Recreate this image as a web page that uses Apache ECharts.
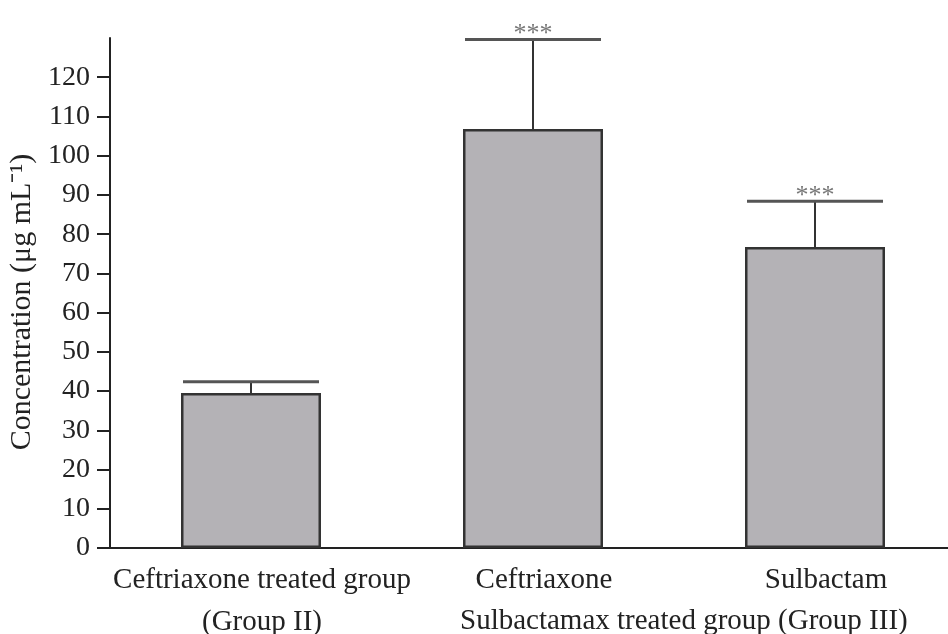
<!DOCTYPE html>
<html>
<head>
<meta charset="utf-8">
<script src="https://cdn.jsdelivr.net/npm/echarts@6/dist/echarts.min.js"></script>
<style>
html,body{margin:0;padding:0;background:#fff;}
#chart{width:948px;height:634px;}
</style>
</head>
<body>
<div id="chart"></div>
<script>
var categories = ['Ceftriaxone treated group\n(Group II)', 'Ceftriaxone', 'Sulbactam'];
var means = [39.5, 106.8, 76.7];
var upperErrors = [42.4, 129.6, 88.4];
var significance = ['', '***', '***'];
var yTicks = [0, 10, 20, 30, 40, 50, 60, 70, 80, 90, 100, 110, 120];
var groupLabel = 'Sulbactamax treated group (Group III)';

var font = '"Liberation Serif", "Times New Roman", serif';
var chart = echarts.init(document.getElementById('chart'));

var errData = means.map(function (m, i) { return [i, m, upperErrors[i]]; });

chart.setOption({
  animation: false,
  backgroundColor: '#fff',
  grid: { left: 110, right: -8, top: 38, bottom: 86, outerBoundsMode: 'none', containLabel: false },
  xAxis: {
    type: 'category',
    data: categories,
    axisLine: { lineStyle: { color: '#222', width: 2 } },
    axisTick: { show: false },
    axisLabel: {
      interval: 0,
      margin: 11,
      fontFamily: font,
      fontSize: 29,
      lineHeight: 42,
      color: '#222',
      padding: [0, 0, 0, 22]
    }
  },
  yAxis: {
    type: 'value',
    min: 0,
    max: 130,
    interval: 10,
    name: 'Concentration (μg mL⁻¹)',
    nameLocation: 'middle',
    nameRotate: 90,
    nameGap: 62,
    nameTextStyle: { fontFamily: font, fontSize: 30, color: '#222', padding: [0, 18, 0, 0] },
    splitLine: { show: false },
    axisLine: { show: true, lineStyle: { color: '#222', width: 2 } },
    axisTick: { show: true, length: 13, customValues: yTicks, lineStyle: { color: '#222', width: 2 } },
    axisLabel: { customValues: yTicks, margin: 20, fontFamily: font, fontSize: 28, color: '#222' }
  },
  graphic: [{
    type: 'text',
    left: 460,
    top: 607,
    style: { text: groupLabel, font: '29px ' + font, fill: '#222' }
  }],
  series: [{
    type: 'bar',
    data: means,
    barWidth: 140,
    itemStyle: { color: '#b4b2b6', borderColor: '#333', borderWidth: 2.5 },
    z: 2
  }, {
    type: 'custom',
    data: errData,
    z: 3,
    renderItem: function (params, api) {
      var i = api.value(0);
      var top = api.coord([i, api.value(1)]);
      var cap = api.coord([i, api.value(2)]);
      var half = 68;
      var sig = significance[params.dataIndex];
      var children = [{
        type: 'line',
        shape: { x1: top[0], y1: top[1], x2: cap[0], y2: cap[1] },
        style: { stroke: '#333', lineWidth: 2 }
      }, {
        type: 'line',
        shape: { x1: cap[0] - half, y1: cap[1], x2: cap[0] + half, y2: cap[1] },
        style: { stroke: '#555', lineWidth: 3 }
      }];
      if (sig) {
        children.push({
          type: 'text',
          style: {
            text: sig, x: cap[0], y: cap[1] - 5,
            align: 'center', verticalAlign: 'middle',
            font: '26px ' + font, fill: '#777'
          }
        });
      }
      return { type: 'group', children: children };
    }
  }]
});
</script>
</body>
</html>
